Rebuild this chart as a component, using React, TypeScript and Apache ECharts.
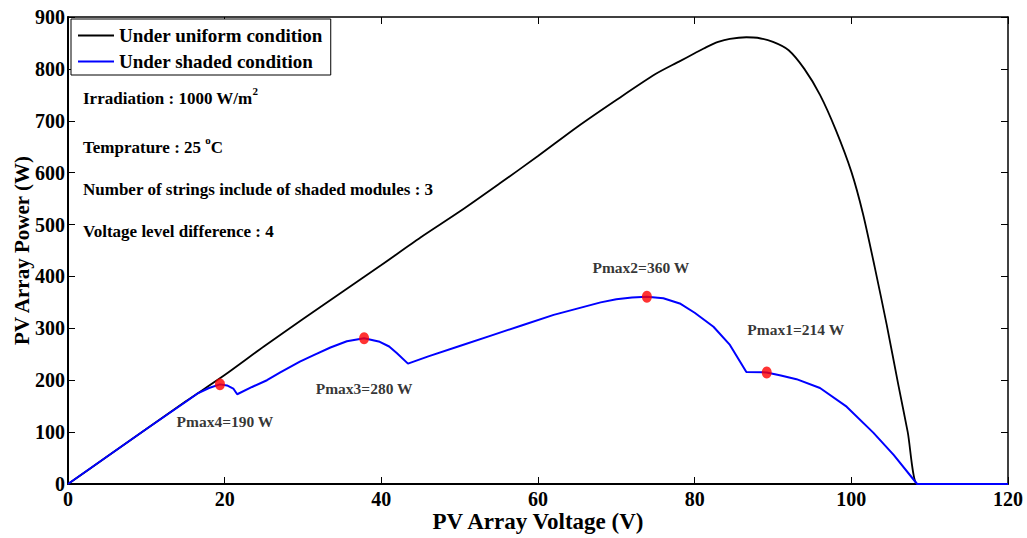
import React, { useEffect, useRef } from "react";
import * as echarts from "echarts";

// ---- data ----
const voltageUniform = [0, 5, 10, 15, 20, 25, 30, 35, 40, 45, 50, 55, 60, 65, 70, 75, 78, 80, 81.5, 83, 84.5, 86.6, 88, 90, 92, 94, 96, 98, 100, 101.5, 103, 104.5, 106, 107.2, 108.4, 110, 115, 120];
const powerUniform = [0, 53, 106, 159, 210, 265, 318, 370, 422, 475, 525, 578, 632, 688, 740, 790, 814, 830, 842, 852, 858, 861, 860, 852, 836, 800, 750, 683, 602, 520, 417, 308, 191, 100, 0, 0, 0, 0];

const voltageShaded = [0, 5, 10, 15, 16.5, 18, 19.4, 20.3, 21.1, 21.6, 23.5, 25.4, 27.1, 29.6, 31.3, 33.5, 35.6, 37.8, 39.8, 41, 42.0, 43.4, 46, 50, 54, 58, 62, 65, 68, 70, 72, 73.9, 76, 78.1, 80, 82.4, 84.5, 86.6, 89.2, 91, 93.0, 96, 99.4, 102.8, 105.4, 108.4, 120];
const powerShaded = [0, 53, 106, 158, 174, 185, 192, 190, 184, 173, 187, 200, 215, 236, 248, 263, 275, 281, 274, 265, 252, 232, 246, 266, 286, 306, 326, 338, 350, 356, 359.5, 361, 358, 348, 330, 303, 268, 216, 215, 209, 202, 185, 149, 99, 56, 0, 0];

const pmaxVoltage = [19.4, 37.8, 73.9, 89.2];
const pmaxPower = [192, 281, 361, 215];
const pmaxLabels = ["Pmax4=190 W", "Pmax3=280 W", "Pmax2=360 W", "Pmax1=214 W"];

const xTicks = [0, 20, 40, 60, 80, 100, 120];
const yTicks = [0, 100, 200, 300, 400, 500, 600, 700, 800, 900];

const seriesNames = ["Under uniform condition", "Under shaded condition"];

// ---- style (not data) ----
const labelOffsets = [
  [5, 37],
  [0, 50],
  [-6, -29],
  [29, -43],
];
const FONT = "'Liberation Serif', 'Times New Roman', serif";

export default function App() {
  const ref = useRef<HTMLDivElement>(null);

  useEffect(() => {
    if (!ref.current) return;
    const chart = echarts.init(ref.current, undefined, { renderer: "svg" });

    const rich = {
      n: { fontSize: 17, fontWeight: "bold", fontFamily: FONT, color: "#000", verticalAlign: "bottom" },
      sup: { fontSize: 11, fontWeight: "bold", fontFamily: FONT, color: "#000", verticalAlign: "bottom", padding: [0, 0, 10, 0] },
    };
    const note = (y: number, text: string) => ({
      type: "text",
      x: 83,
      y,
      style: { text, rich, verticalAlign: "middle", align: "left" },
    });

    const xMin = xTicks[0];
    const xMax = xTicks[xTicks.length - 1];
    const yMin = yTicks[0];
    const yMax = yTicks[yTicks.length - 1];

    chart.setOption({
      animation: false,
      backgroundColor: "#fff",
      grid: { left: 68, right: 19, top: 17, bottom: 54, containLabel: false, outerBoundsMode: "none" },
      legend: {
        data: seriesNames,
        orient: "vertical",
        left: 71,
        top: 19,
        itemWidth: 36,
        itemHeight: 14,
        itemGap: 7,
        padding: [7, 8, 4, 6],
        backgroundColor: "#fff",
        borderColor: "#000",
        borderWidth: 1,
        itemStyle: { opacity: 0 },
        textStyle: { fontFamily: FONT, fontWeight: "bold", fontSize: 19, color: "#000" },
      },
      xAxis: [
        {
          type: "value",
          min: xMin,
          max: xMax,
          interval: 20,
          position: "bottom",
          name: "PV Array Voltage (V)",
          nameLocation: "middle",
          nameGap: 26,
          nameMoveOverlap: false,
          nameTextStyle: { fontFamily: FONT, fontWeight: "bold", fontSize: 23, color: "#000" },
          axisLine: { show: true, lineStyle: { color: "#000", width: 2 } },
          axisTick: { show: true, inside: true, length: 7, lineStyle: { color: "#000", width: 1 } },
          axisLabel: { fontFamily: FONT, fontWeight: "bold", fontSize: 20, color: "#000", margin: 5 },
          splitLine: { show: false },
        },
        {
          type: "value",
          min: xMin,
          max: xMax,
          interval: 20,
          position: "top",
          axisLine: { show: true, onZero: false, lineStyle: { color: "#000", width: 1.5 } },
          axisTick: { show: true, inside: true, length: 7, lineStyle: { color: "#000", width: 1 } },
          axisLabel: { show: false },
          splitLine: { show: false },
        },
      ],
      yAxis: [
        {
          type: "value",
          min: yMin,
          max: yMax,
          interval: 100,
          position: "left",
          name: "PV Array Power (W)",
          nameLocation: "middle",
          nameGap: 36,
          nameMoveOverlap: false,
          nameTextStyle: { fontFamily: FONT, fontWeight: "bold", fontSize: 21, color: "#000" },
          axisLine: { show: true, lineStyle: { color: "#000", width: 2 } },
          axisTick: { show: true, inside: true, length: 7, lineStyle: { color: "#000", width: 1 } },
          axisLabel: { fontFamily: FONT, fontWeight: "bold", fontSize: 20, color: "#000", margin: 3 },
          splitLine: { show: false },
        },
        {
          type: "value",
          min: yMin,
          max: yMax,
          interval: 100,
          position: "right",
          axisLine: { show: true, onZero: false, lineStyle: { color: "#000", width: 1.5 } },
          axisTick: { show: true, inside: true, length: 7, lineStyle: { color: "#000", width: 1 } },
          axisLabel: { show: false },
          splitLine: { show: false },
        },
      ],
      series: [
        {
          name: seriesNames[0],
          type: "line",
          symbol: "none",
          smooth: 0.25,
          lineStyle: { color: "#000", width: 1.8 },
          itemStyle: { color: "#000" },
          data: voltageUniform.map((v, i) => [v, powerUniform[i]]),
          z: 2,
        },
        {
          name: seriesNames[1],
          type: "line",
          symbol: "none",
          lineStyle: { color: "#0000ff", width: 2 },
          itemStyle: { color: "#0000ff" },
          data: voltageShaded.map((v, i) => [v, powerShaded[i]]),
          z: 3,
        },
        {
          name: "Pmax",
          type: "scatter",
          symbol: "circle",
          symbolSize: [10, 12],
          itemStyle: { color: "#ff0000" },
          z: 4,
          data: pmaxVoltage.map((v, i) => ({
            value: [v, pmaxPower[i]],
            label: {
              show: true,
              formatter: pmaxLabels[i],
              position: "inside",
              offset: labelOffsets[i],
              fontFamily: FONT,
              fontWeight: "bold",
              fontSize: 15.5,
              color: "#000",
            },
          })),
        },
      ],
      graphic: [
        note(96, "{n|Irradiation : 1000 W/m}{sup|2}"),
        note(145, "{n|Temprature : 25 }{sup|o}{n|C}"),
        note(189, "{n|Number of strings include of shaded modules : 3}"),
        note(231, "{n|Voltage level difference : 4}"),
      ],
    });

    return () => chart.dispose();
  }, []);

  return (
    <div
      ref={ref}
      style={{ position: "fixed", left: 0, top: 0, width: 1027, height: 538, background: "#fff" }}
    />
  );
}
